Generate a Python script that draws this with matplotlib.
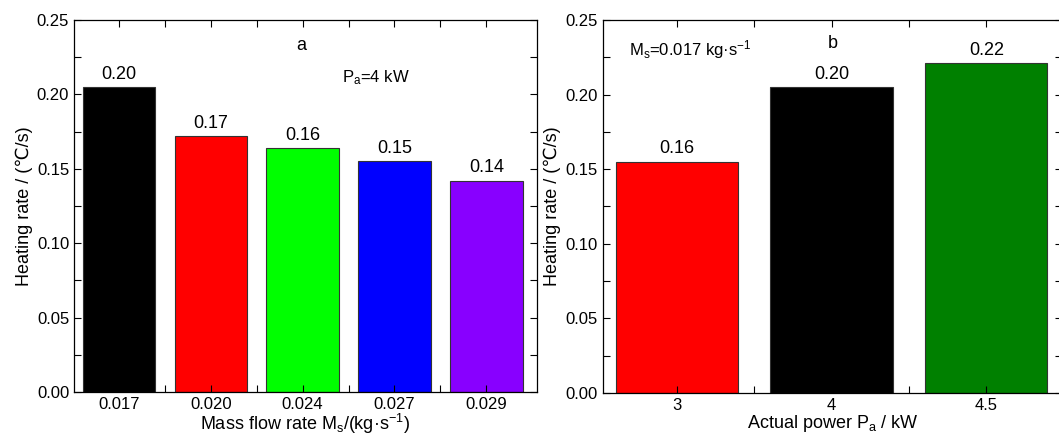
import matplotlib
matplotlib.use("Agg")
import matplotlib.pyplot as plt
from matplotlib.ticker import MultipleLocator, FixedLocator
import numpy as np

plt.rcParams['font.family'] = ['Liberation Sans', 'DejaVu Sans']
plt.rcParams['mathtext.fontset'] = 'custom'
plt.rcParams['mathtext.rm'] = 'Liberation Sans'
plt.rcParams['mathtext.it'] = 'Liberation Sans'
plt.rcParams['mathtext.default'] = 'rm'

# panel a: heating rate vs mass flow rate (Pa = 4 kW)
flow_labels = ["0.017", "0.020", "0.024", "0.027", "0.029"]
flow_rates = [0.205, 0.172, 0.164, 0.155, 0.142]
flow_text = ["0.20", "0.17", "0.16", "0.15", "0.14"]
flow_colors = ["#000000", "#ff0000", "#00ff00", "#0000ff", "#8800ff"]

# panel b: heating rate vs actual power (Ms = 0.017 kg/s)
power_labels = ["3", "4", "4.5"]
power_rates = [0.155, 0.205, 0.221]
power_text = ["0.16", "0.20", "0.22"]
power_colors = ["#ff0000", "#000000", "#008000"]

fig = plt.figure(figsize=(10.59, 4.37), dpi=100)
ax_a = fig.add_axes([0.0699, 0.103, 0.437, 0.851])
ax_b = fig.add_axes([0.569, 0.101, 0.434, 0.853])

tick_fs = 12
label_fs = 13


def draw_panel(ax, labels, values, texts, colors, xlim):
    x = np.arange(len(labels))
    bars = ax.bar(x, values, width=0.79, color=colors, edgecolor="#333333", linewidth=0.8)
    for b, t in zip(bars, texts):
        ax.text(b.get_x() + b.get_width() / 2, b.get_height() + 0.003, t,
                ha="center", va="bottom", fontsize=13)
    ax.set_xlim(*xlim)
    ax.set_ylim(0, 0.25)
    ax.set_xticks(x)
    ax.set_xticklabels(labels)
    ax.xaxis.set_minor_locator(FixedLocator(x[:-1] + 0.5))
    ax.yaxis.set_major_locator(MultipleLocator(0.05))
    ax.yaxis.set_minor_locator(MultipleLocator(0.025))
    ax.yaxis.set_major_formatter(matplotlib.ticker.FormatStrFormatter("%.2f"))
    ax.tick_params(which="both", direction="in", top=True, right=True, labelsize=tick_fs, width=0.8, length=5)
    for s in ax.spines.values():
        s.set_linewidth(0.9)
    ax.set_ylabel("Heating rate / (\u2103/s)", fontsize=label_fs, labelpad=3)


draw_panel(ax_a, flow_labels, flow_rates, flow_text, flow_colors, (-0.49, 4.55))
ax_a.set_xlabel("Mass flow rate M$_\\mathrm{s}$/(kg\u00b7s$^{-1}$)", fontsize=label_fs, labelpad=0)
ax_a.text(0.49, 0.933, "a", transform=ax_a.transAxes, ha="center", va="center", fontsize=label_fs)
ax_a.text(0.58, 0.844, "P$_\\mathrm{a}$=4 kW", transform=ax_a.transAxes, ha="left", va="center", fontsize=tick_fs)

draw_panel(ax_b, power_labels, power_rates, power_text, power_colors, (-0.48, 2.49))
ax_b.set_xlabel("Actual power P$_\\mathrm{a}$ / kW", fontsize=label_fs, labelpad=0)
ax_b.text(0.5, 0.936, "b", transform=ax_b.transAxes, ha="center", va="center", fontsize=label_fs)
ax_b.text(0.057, 0.922, "M$_\\mathrm{s}$=0.017 kg\u00b7s$^{-1}$", transform=ax_b.transAxes, ha="left", va="center", fontsize=tick_fs)

fig.savefig("out.png", dpi=100)
